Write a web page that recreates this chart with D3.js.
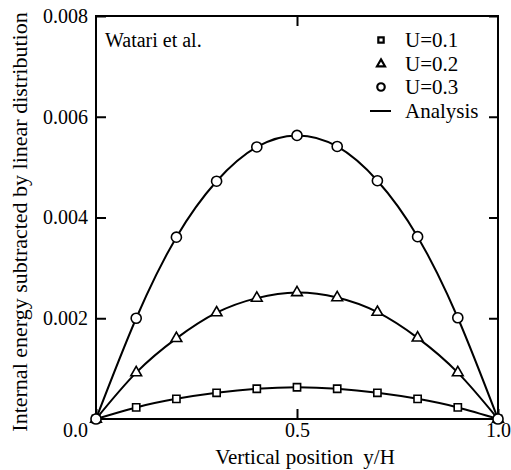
<!DOCTYPE html>
<html>
<head>
<meta charset="UTF-8">
<script src="https://cdn.jsdelivr.net/npm/d3@7/dist/d3.min.js"></script>
<style>
    body{ margin:0; background:#fff; }
    .axis path, .axis line{ stroke:#000; stroke-width:2; }
    .curva{ fill:none; stroke:#000; stroke-width:2; }
    .marca{ fill:#fff; stroke:#000; stroke-width:1.6; }
</style>
</head>
<body>
<div id="grafico"></div>
<script>
var w = 511, h = 470;
var margen = {top:16, right:13, bottom:51, left:96};
var fuente = "'Liberation Serif', 'Times New Roman', serif";

// posiciones y/H
var posiciones = [0, 0.1, 0.2, 0.3, 0.4, 0.5, 0.6, 0.7, 0.8, 0.9, 1.0];
// valores (Watari et al.)
var u01 = [0, 0.00023, 0.00040, 0.00052, 0.00060, 0.00063, 0.00060, 0.00052, 0.00040, 0.00023, 0];
var u02 = [0, 0.00092, 0.00160, 0.00211, 0.00240, 0.00251, 0.00241, 0.00212, 0.00161, 0.00092, 0];
var u03 = [0, 0.00200, 0.00361, 0.00472, 0.00540, 0.00563, 0.00541, 0.00473, 0.00362, 0.00201, 0];

var ticksX = [0, 0.5, 1.0];
var etiquetasX = ["0.0", "0.5", "1.0"];
var ticksY = [0.002, 0.004, 0.006, 0.008];
var leyenda = ["U=0.1", "U=0.2", "U=0.3", "Analysis"];

var series = [
    {nombre:"U=0.1", valores:u01, forma:d3.symbolSquare, tam:52},
    {nombre:"U=0.2", valores:u02, forma:d3.symbolTriangle, tam:50},
    {nombre:"U=0.3", valores:u03, forma:d3.symbolCircle, tam:80}
];

var xScale = d3.scaleLinear().domain([0, 1]).range([margen.left, w - margen.right]);
var yScale = d3.scaleLinear().domain([0, 0.008]).range([h - margen.bottom, margen.top]);

var svg = d3.select("#grafico").append("svg")
    .attr("width", w)
    .attr("height", h);

// marco
svg.append("rect")
    .attr("x", xScale(0)).attr("y", yScale(0.008))
    .attr("width", xScale(1) - xScale(0))
    .attr("height", yScale(0) - yScale(0.008))
    .attr("fill", "none").attr("stroke", "#000").attr("stroke-width", 2);

// ejes
var ejeX = svg.append("g").attr("class", "axis")
    .attr("transform", "translate(0," + yScale(0) + ")")
    .call(d3.axisBottom(xScale).tickValues(ticksX).tickSize(-10).tickSizeOuter(0).tickPadding(4)
        .tickFormat(function(d, i){ return etiquetasX[i]; }));
ejeX.select(".domain").remove();
ejeX.selectAll(".tick text").attr("dx", function(d){ return d === 0 ? -21 : 0; });

svg.append("g").attr("class", "axis")
    .attr("transform", "translate(0," + yScale(0.008) + ")")
    .call(d3.axisTop(xScale).tickValues([0.5]).tickSize(-10).tickSizeOuter(0).tickFormat(""))
    .select(".domain").remove();

var ejeY = svg.append("g").attr("class", "axis")
    .attr("transform", "translate(" + xScale(0) + ",0)")
    .call(d3.axisLeft(yScale).tickValues(ticksY).tickSize(-10).tickSizeOuter(0).tickPadding(8)
        .tickFormat(d3.format(".3f")));
ejeY.select(".domain").remove();

svg.append("g").attr("class", "axis")
    .attr("transform", "translate(" + xScale(1) + ",0)")
    .call(d3.axisRight(yScale).tickValues(ticksY).tickSize(-9).tickSizeOuter(0).tickFormat(""))
    .select(".domain").remove();

// curvas de analisis
var linea = d3.line()
    .x(function(d, i){ return xScale(posiciones[i]); })
    .y(function(d){ return yScale(d); })
    .curve(d3.curveNatural);

series.forEach(function(s){
    svg.append("path").attr("class", "curva").attr("d", linea(s.valores));
});

// marcas
series.forEach(function(s){
    svg.selectAll(null)
        .data(s.valores)
        .enter()
        .append("path")
        .attr("class", "marca")
        .attr("transform", function(d, i){ return "translate(" + xScale(posiciones[i]) + "," + yScale(d) + ")"; })
        .attr("d", d3.symbol().type(s.forma).size(s.tam));
});

// textos
svg.append("text")
    .attr("x", 105).attr("y", 47)
    .style("font-size", "20px")
    .text("Watari et al.");

var tituloX = svg.append("text")
    .attr("x", 305).attr("y", 464)
    .attr("text-anchor", "middle")
    .style("font-size", "21px");
tituloX.append("tspan").text("Vertical position");
tituloX.append("tspan").attr("dx", 10).text("y/H");

svg.append("text")
    .attr("transform", "translate(27," + 222 + ") rotate(-90)")
    .attr("text-anchor", "middle")
    .style("font-size", "22px")
    .text("Internal energy subtracted by linear distribution");

// leyenda
var filas = [40, 64, 87, 111];
var ley = svg.append("g");
series.forEach(function(s, i){
    ley.append("path")
        .attr("transform", "translate(381," + filas[i] + ")")
        .attr("d", d3.symbol().type(s.forma).size(s.tam * 0.55))
        .attr("fill", "#fff").attr("stroke", "#000").attr("stroke-width", 2.2);
});
ley.append("line")
    .attr("x1", 370).attr("x2", 391)
    .attr("y1", filas[3]).attr("y2", filas[3])
    .attr("stroke", "#000").attr("stroke-width", 2);
leyenda.forEach(function(t, i){
    ley.append("text")
        .attr("x", 405).attr("y", filas[i]).attr("dy", "0.35em")
        .style("font-size", "21px")
        .text(t);
});

// todos los textos en serif
svg.selectAll("text")
    .attr("font-family", null)
    .style("font-family", fuente)
    .style("fill", "#000");
svg.selectAll(".axis").attr("font-family", null).attr("font-size", null);
svg.selectAll(".axis text").style("font-size", "20px");
</script>
</body>
</html>
